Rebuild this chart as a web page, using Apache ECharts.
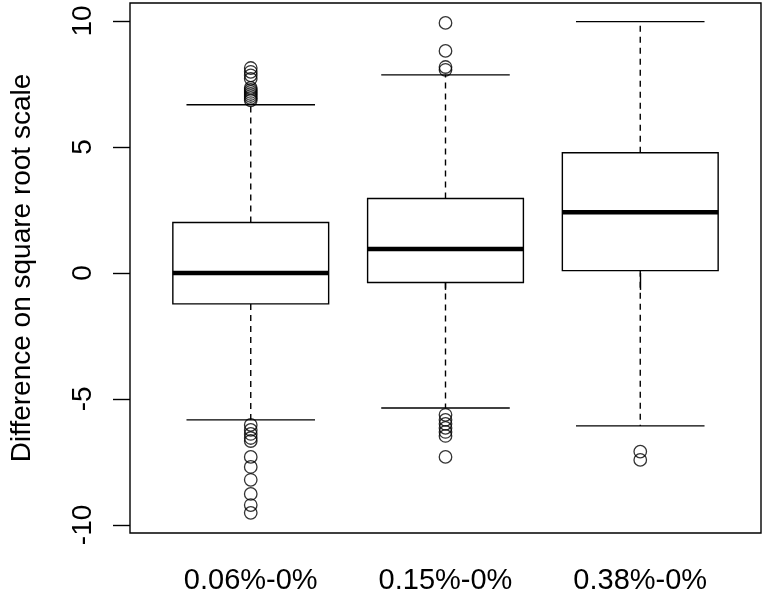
<!DOCTYPE html>
<html>
<head>
<meta charset="utf-8">
<script src="https://cdn.jsdelivr.net/npm/echarts@6/dist/echarts.min.js"></script>
<style>html,body{margin:0;padding:0;background:#fff}#c{width:764px;height:596px}</style>
</head>
<body>
<div id="c"></div>
<script>
// ---- data ----
var categories = ['0.06%-0%', '0.15%-0%', '0.38%-0%'];
var lowerWhisker = [-5.83, -5.36, -6.07];
var q1 = [-1.23, -0.38, 0.09];
var median = [0.0, 0.95, 2.41];
var q3 = [2.0, 2.95, 4.77];
var upperWhisker = [6.67, 7.86, 9.97];
var outliers1 = [8.13, 7.98, 7.84, 7.70, 7.34, 7.26, 7.18, 7.10, 7.02, 6.94, 6.85,
                 -6.03, -6.23, -6.39, -6.55, -6.67, -7.30, -7.70, -8.21, -8.77, -9.21, -9.52];
var outliers2 = [9.92, 8.81, 8.17, 8.06, -5.63, -5.83, -5.99, -6.15, -6.31, -6.47, -7.30];
var outliers3 = [-7.09, -7.42];
var yTicks = [-10, -5, 0, 5, 10];
var xTicks = [1, 2, 3];

// ---- build ----
var boxData = categories.map(function (c, i) {
  return [i + 1, lowerWhisker[i], q1[i], median[i], q3[i], upperWhisker[i]];
});
var outlierData = [];
[outliers1, outliers2, outliers3].forEach(function (arr, i) {
  arr.forEach(function (v) { outlierData.push([i + 1, v]); });
});

var FONT = "'Liberation Sans', Arial, sans-serif";
var BOXW = 0.8, STAPLEW = 0.66;

function renderBox(params, api) {
  var x = api.value(0);
  var pLow = api.coord([x, api.value(1)]);
  var pQ1 = api.coord([x, api.value(2)]);
  var pMed = api.coord([x, api.value(3)]);
  var pQ3 = api.coord([x, api.value(4)]);
  var pHigh = api.coord([x, api.value(5)]);
  var bw = api.size([BOXW, 0])[0];
  var sw = api.size([STAPLEW, 0])[0];
  var cx = pMed[0];
  var solid = { stroke: '#000', lineWidth: 1.4, fill: null };
  var dashed = { stroke: '#000', lineWidth: 1.4, lineDash: [6, 5] };
  return {
    type: 'group',
    children: [
      { type: 'line', shape: { x1: cx, y1: pQ3[1], x2: cx, y2: pHigh[1] }, style: dashed },
      { type: 'line', shape: { x1: cx, y1: pQ1[1], x2: cx, y2: pLow[1] }, style: dashed },
      { type: 'line', shape: { x1: cx - sw / 2, y1: pHigh[1], x2: cx + sw / 2, y2: pHigh[1] }, style: solid },
      { type: 'line', shape: { x1: cx - sw / 2, y1: pLow[1], x2: cx + sw / 2, y2: pLow[1] }, style: solid },
      { type: 'rect', shape: { x: cx - bw / 2, y: pQ3[1], width: bw, height: pQ1[1] - pQ3[1] },
        style: { stroke: '#000', lineWidth: 1.4, fill: '#fff' } },
      { type: 'line', shape: { x1: cx - bw / 2, y1: pMed[1], x2: cx + bw / 2, y2: pMed[1] },
        style: { stroke: '#000', lineWidth: 4.5 } }
    ]
  };
}

var chart = echarts.init(document.getElementById('c'), null, { renderer: 'canvas' });
chart.setOption({
  backgroundColor: '#fff',
  animation: false,
  grid: { left: 130, right: 3, top: 3, bottom: 63, show: true, borderColor: '#000', borderWidth: 1.4, backgroundColor: 'transparent' },
  xAxis: {
    type: 'value', min: 0.38, max: 3.62,
    splitLine: { show: false },
    axisLine: { show: false },
    axisTick: { show: true, length: 17, customValues: xTicks, lineStyle: { color: '#000', width: 1.4 } },
    axisLabel: {
      customValues: xTicks, margin: 33, color: '#000', fontSize: 29, fontFamily: FONT,
      formatter: function (v) { return categories[Math.round(v) - 1] || ''; }
    }
  },
  yAxis: {
    type: 'value', min: -10.32, max: 10.71,
    name: 'Difference on square root scale', nameLocation: 'middle', nameRotate: 90, nameGap: 94,
    nameTextStyle: { color: '#000', fontSize: 28, fontFamily: FONT },
    splitLine: { show: false },
    axisLine: { show: false },
    axisTick: { show: true, length: 17, customValues: yTicks, lineStyle: { color: '#000', width: 1.4 } },
    axisLabel: { customValues: yTicks, rotate: 90, margin: 33, color: '#000', fontSize: 28, fontFamily: FONT }
  },
  series: [
    {
      type: 'custom', data: boxData, renderItem: renderBox,
      encode: { x: 0, y: [1, 2, 3, 4, 5] }, clip: false
    },
    {
      type: 'scatter', data: outlierData, symbol: 'circle', symbolSize: 12.5,
      itemStyle: { color: 'transparent', borderColor: '#000', borderWidth: 1.3 },
      z: 3
    }
  ]
});
</script>
</body>
</html>
